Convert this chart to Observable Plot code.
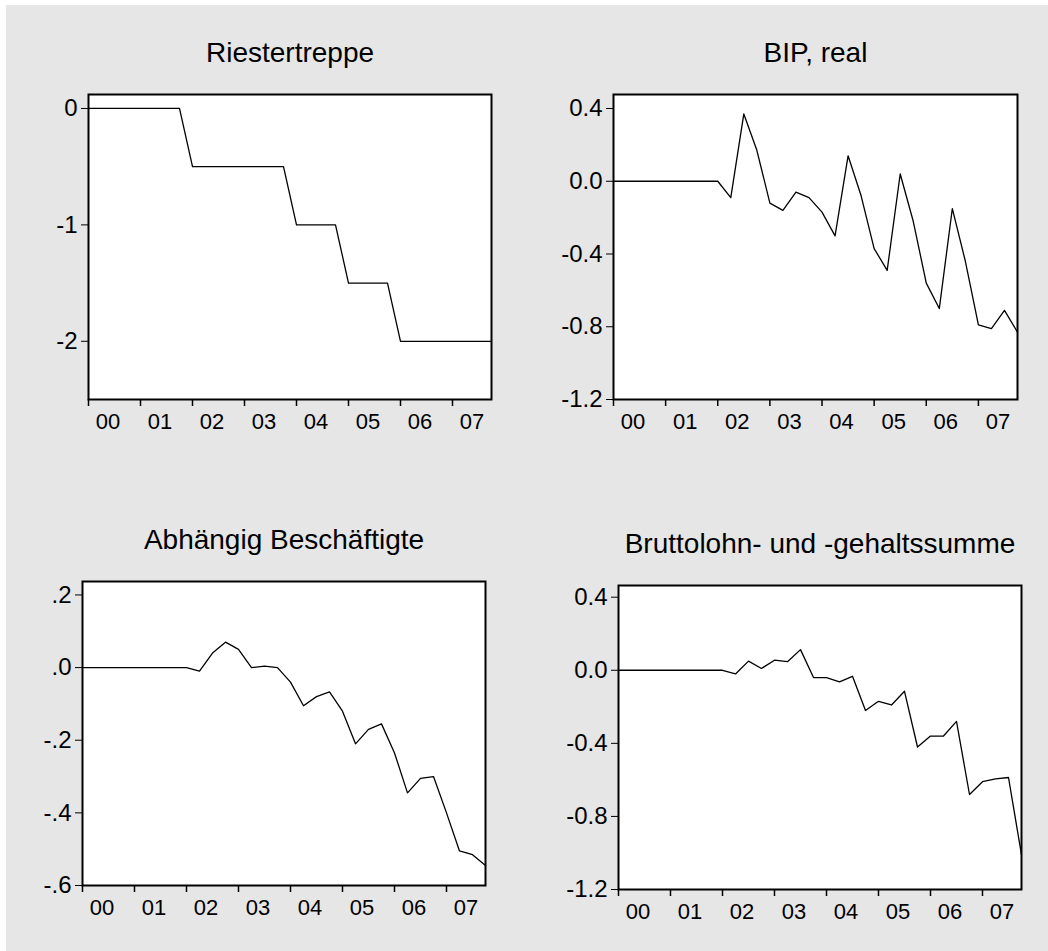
<!DOCTYPE html>
<html><head><meta charset="utf-8">
<script src="https://cdn.jsdelivr.net/npm/d3@7"></script>
<script src="https://cdn.jsdelivr.net/npm/@observablehq/plot@0.6"></script>
<style>
body{margin:0;background:#fff;}
#wrap{position:relative;width:1048px;height:951px;overflow:hidden;background:#fff;}
#bg{position:absolute;left:6px;top:5px;right:0;bottom:0;background:#e6e6e6;}
.panel{position:absolute;}
.panel svg{background:transparent !important;overflow:visible;}
</style></head><body>
<div id="wrap"><div id="bg"></div></div>
<script>
// Quarterly data 2000Q1 .. 2007Q4
const years = ["00","01","02","03","04","05","06","07"];
const riester = [0,0,0,0,0,0,0,0, -0.5,-0.5,-0.5,-0.5,-0.5,-0.5,-0.5,-0.5, -1,-1,-1,-1, -1.5,-1.5,-1.5,-1.5, -2,-2,-2,-2,-2,-2,-2,-2];
const bipReal = [0,0,0,0,0,0,0,0,0, -0.09,0.37,0.17,-0.12,-0.16,-0.06,-0.09,-0.17,-0.30,0.14,-0.08,-0.37,-0.49,0.04,-0.22,-0.56,-0.70,-0.15,-0.44,-0.79,-0.81,-0.71,-0.83];
const beschaeftigte = [0,0,0,0,0,0,0,0,0, -0.01,0.04,0.07,0.05,0.00,0.004,0.00,-0.04,-0.105,-0.08,-0.067,-0.12,-0.21,-0.17,-0.155,-0.235,-0.345,-0.305,-0.30,-0.40,-0.505,-0.515,-0.545];
const bruttolohn = [0,0,0,0,0,0,0,0,0, -0.02,0.05,0.01,0.055,0.047,0.113,-0.04,-0.04,-0.064,-0.033,-0.22,-0.17,-0.19,-0.115,-0.42,-0.36,-0.36,-0.28,-0.68,-0.61,-0.595,-0.587,-1.01];
const titles = ["Riestertreppe","BIP, real","Abhängig Beschäftigte","Bruttolohn- und -gehaltssumme"];
const ticksRiester = [0,-1,-2];
const ticksBip = [0.4,0,-0.4,-0.8,-1.2];
const ticksBesch = [0.2,0,-0.2,-0.4,-0.6];
const ticksLohn = [0.4,0,-0.4,-0.8,-1.2];

const fmtInt = d => String(d);
const fmt1 = d => (Math.abs(d) < 1e-9 ? 0 : d).toFixed(1);
const fmtDot = d => fmt1(d).replace("0.", ".");

const FONT = "'Liberation Sans', Arial, Helvetica, sans-serif";

const panels = [
  {title: titles[0], values: riester, ticks: ticksRiester, fmt: fmtInt, domain: [-2.5, 0.12],
   box: [0, 0, 524, 475], frame: [88, 94, 491, 399]},
  {title: titles[1], values: bipReal, ticks: ticksBip, fmt: fmt1, domain: [-1.2, 0.477],
   box: [524, 0, 524, 475], frame: [613, 94, 1017, 399]},
  {title: titles[2], values: beschaeftigte, ticks: ticksBesch, fmt: fmtDot, domain: [-0.6, 0.237],
   box: [0, 475, 524, 476], frame: [82, 581, 485, 885]},
  {title: titles[3], values: bruttolohn, ticks: ticksLohn, fmt: fmt1, domain: [-1.2, 0.464],
   box: [524, 475, 524, 476], frame: [618, 585, 1021, 889]}
];

const n = 32;
const yearTicks = years.map((y, i) => i * 4);

const wrap = document.getElementById("wrap");
for (const p of panels) {
  const [bx, by, bw, bh] = p.box;
  const [fl, ft, fr, fb] = p.frame;
  const chart = Plot.plot({
    width: bw, height: bh,
    marginLeft: fl - bx, marginTop: ft - by,
    marginRight: bx + bw - fr, marginBottom: by + bh - fb,
    style: {fontFamily: FONT, background: "transparent", color: "#000", overflow: "visible"},
    x: {type: "linear", domain: [0, n - 1]},
    y: {type: "linear", domain: p.domain},
    marks: [
      Plot.frame({fill: "#fff", stroke: null}),
      Plot.axisY(p.ticks, {tickSize: 7, tickFormat: () => "", stroke: "#000", strokeWidth: 1, label: null}),
      Plot.axisX(yearTicks, {tickSize: 7, tickFormat: () => "", stroke: "#000", strokeWidth: 1.5, label: null}),
      Plot.text(p.ticks, {y: d => d, frameAnchor: "left", dx: -11, textAnchor: "end", text: p.fmt,
        fontSize: 24, fill: "#000", lineAnchor: "middle"}),
      Plot.text(years, {x: (d, i) => i * 4 + 1.5, frameAnchor: "bottom", dy: 22, text: d => d,
        fontSize: 22, fill: "#000", lineAnchor: "middle"}),
      Plot.line(p.values, {x: (d, i) => i, y: d => d, stroke: "#000", strokeWidth: 1.3}),
      Plot.frame({stroke: "#000", strokeWidth: 2}),
      Plot.text([p.title], {frameAnchor: "top", dy: -33 - 0.32 * 28, lineAnchor: "middle",
        fontSize: 28, fill: "#000", text: d => d})
    ]
  });
  const div = document.createElement("div");
  div.className = "panel";
  div.style.left = bx + "px";
  div.style.top = by + "px";
  div.appendChild(chart);
  wrap.appendChild(div);
}
</script>
</body></html>
